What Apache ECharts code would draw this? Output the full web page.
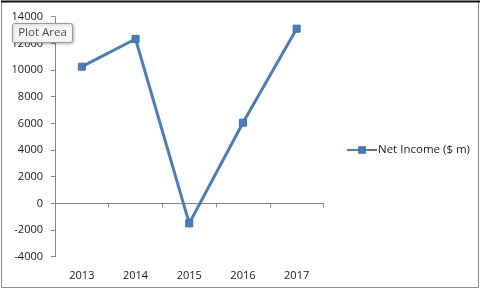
<!DOCTYPE html>
<html>
<head>
<meta charset="utf-8">
<script src="https://cdn.jsdelivr.net/npm/echarts@6/dist/echarts.min.js"></script>
<style>
html,body{margin:0;padding:0;background:#fff;}
#c{width:481px;height:292px;}
</style>
</head>
<body>
<div id="c"></div>
<script>
const categories = ['2013', '2014', '2015', '2016', '2017'];
const netIncome = [10250, 12330, -1500, 6050, 13100];
const seriesName = 'Net Income ($ m)';
const yMin = -4000, yMax = 14000, yStep = 2000;

const chart = echarts.init(document.getElementById('c'), null, {renderer: 'canvas'});
const font = 'Open Sans, Liberation Sans, sans-serif';
chart.setOption({
  animation: false,
  backgroundColor: '#fff',
  grid: {left: 55, right: 157.5, top: 16.7, bottom: 35.3, containLabel: false},
  legend: {
    left: 341, top: 139, itemWidth: 30, itemHeight: 7, itemGap: 2,
    textStyle: {fontFamily: font, fontSize: 11.5, color: '#1a1a1a', padding: [0, 0, 0, -4]},
    data: [seriesName]
  },
  xAxis: [{
    type: 'category', data: categories, boundaryGap: true,
    axisLine: {onZero: true, lineStyle: {color: '#868686', width: 1}},
    axisTick: {show: true, length: 4, inside: false, lineStyle: {color: '#868686'}},
    axisLabel: {show: false},
    splitLine: {show: false}
  }, {
    type: 'category', data: categories, position: 'bottom', boundaryGap: true,
    axisLine: {show: false, onZero: false},
    axisTick: {show: false},
    axisLabel: {margin: 13.5, fontFamily: font, fontSize: 11, color: '#1a1a1a'}
  }],
  yAxis: {
    type: 'value', min: yMin, max: yMax, interval: yStep,
    axisLine: {show: true, lineStyle: {color: '#868686', width: 1}},
    axisTick: {show: true, length: 4, lineStyle: {color: '#868686'}},
    axisLabel: {margin: 12, fontFamily: font, fontSize: 11, color: '#1a1a1a', formatter: v => String(v)},
    splitLine: {show: false}
  },
  series: [{
    name: seriesName, type: 'line', xAxisIndex: 0,
    data: netIncome,
    symbol: 'rect', symbolSize: 7,
    lineStyle: {color: '#4a7ebb', width: 3},
    itemStyle: {color: '#4a7ebb', borderColor: '#3d6fa8', borderWidth: 1},
    z: 5
  }],
  graphic: [
    {type: 'rect', shape: {x: 1.5, y: 1.5, width: 477, height: 286}, style: {fill: null, stroke: '#8a8a8a', lineWidth: 1}, z: 1, silent: true},
    {type: 'line', shape: {x1: 1, y1: 1.5, x2: 480, y2: 1.5}, style: {stroke: '#111', lineWidth: 2}, z: 2, silent: true},
    {type: 'rect', shape: {x: 12.5, y: 23.5, width: 60, height: 19, r: 2},
      style: {fill: '#f7f7f9', stroke: '#9a9a9a', lineWidth: 1, shadowBlur: 3, shadowOffsetX: 1, shadowOffsetY: 1, shadowColor: 'rgba(0,0,0,0.25)'}, z: 20, silent: true},
    {type: 'text', x: 42.5, y: 33, style: {text: 'Plot Area', fontFamily: font, fontSize: 11.5, fill: '#4a4a4a', align: 'center', verticalAlign: 'middle'}, z: 21, silent: true}
  ]
});
</script>
</body>
</html>
